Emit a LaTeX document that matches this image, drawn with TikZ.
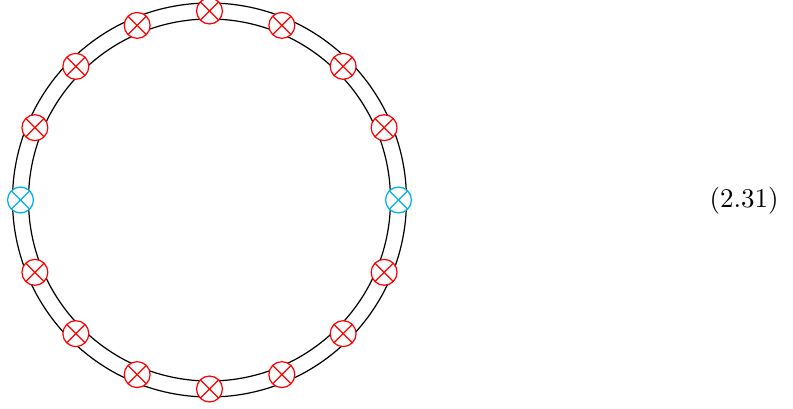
\documentclass[tikz,border=0pt]{standalone}
\usetikzlibrary{calc}
\definecolor{mkcyan}{RGB}{0,174,239}
\tikzset{
  ring/.style={draw=black, line width=0.45pt},
  mk/.style={circle, draw=#1, fill=white, line width=0.45pt, inner sep=0pt, minimum size=9.6pt,
    path picture={\draw[#1, line width=0.45pt] (path picture bounding box.south west) -- (path picture bounding box.north east)
      (path picture bounding box.north west) -- (path picture bounding box.south east);}},
}
\begin{document}
\begin{tikzpicture}[x=0.37037pt,y=-0.37037pt]
\useasboundingbox (0,0) rectangle (793,408);
\coordinate (c) at (209.5,200);
\draw[ring] (c) circle[radius=197];
\draw[ring] (c) circle[radius=181];
\foreach \i in {1,...,15}{
  \ifnum\i=8\relax\else
  \node[mk=red] (m\i) at ($(c)+(\i*22.5:189)$) {};
  \fi
}
\node[mk=mkcyan] (m0) at ($(c)+(0:189)$) {};
\node[mk=mkcyan] (m8) at ($(c)+(180:189)$) {};
\node (eq) at (744,201) {(2.31)};
\end{tikzpicture}
\end{document}
